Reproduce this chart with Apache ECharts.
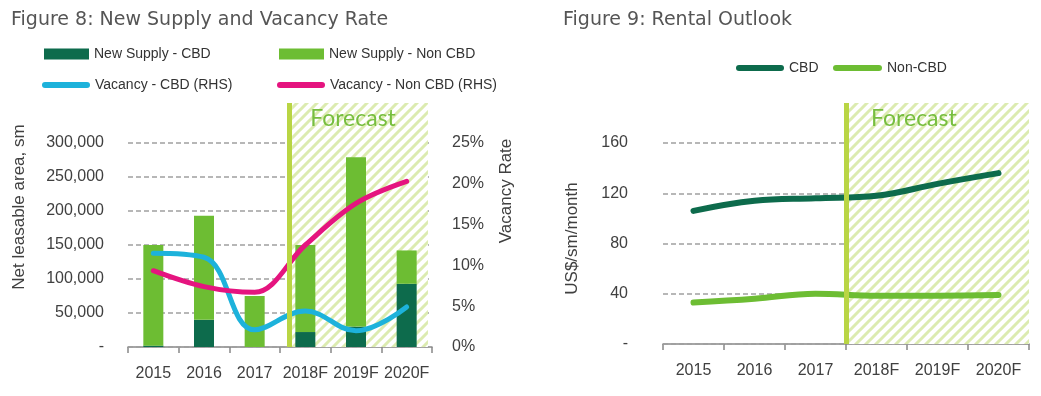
<!DOCTYPE html>
<html><head><meta charset="utf-8">
<script src="https://cdn.jsdelivr.net/npm/echarts@6/dist/echarts.min.js"></script>
<style>html,body{margin:0;padding:0;background:#fff}#c{width:1041px;height:396px}</style>
</head><body><div id="c"></div>
<script>
const years = ['2015','2016','2017','2018F','2019F','2020F'];
const supplyCBD = [2000, 40000, 0, 22000, 30000, 93000];
const supplyNonCBD = [148000, 153000, 75000, 128000, 249000, 49000];
const vacancyCBD = [11.5, 11.0, 2.1, 4.4, 2.0, 4.9];
const vacancyNonCBD = [9.35, 7.4, 6.7, 12.5, 17.6, 20.3];
const rentCBD = [106, 114, 116, 118, 127.5, 136];
const rentNonCBD = [33, 36, 40, 38.5, 38.5, 39];

const NARROW = "'Liberation Sans','Roboto',sans-serif";
const TITLEF = "'DejaVu Sans','Liberation Sans',sans-serif";
const C_DARK = '#0d6b4c', C_LIGHT = '#6dbd33', C_BLUE = '#1db2db', C_PINK = '#e5147f';
const C_FLINE = '#b9d544', C_FTEXT = '#77be3f', C_GRID = '#a0a0a0', C_TXT = '#404040';
const CAPSULE = 'path://M3,0 L45,0 A3,3 0 0 1 45,6 L3,6 A3,3 0 0 1 3,0 Z';

function hatch(){
  const c = document.createElement('canvas'); c.width = 10; c.height = 10;
  const g = c.getContext('2d'); g.fillStyle = '#fff'; g.fillRect(0,0,10,10);
  g.strokeStyle = '#dcebb0'; g.lineWidth = 3; g.lineCap='square';
  g.beginPath(); g.moveTo(-2,12); g.lineTo(12,-2); g.moveTo(-2,2); g.lineTo(2,-2); g.moveTo(8,12); g.lineTo(12,8); g.stroke();
  return c;
}
const pat = {image: hatch(), repeat: 'repeat'};

const chart = echarts.init(document.getElementById('c'), null, {renderer:'canvas'});
const lab = {fontFamily: NARROW, fontSize: 16, color: C_TXT};
const split = {show: true, lineStyle: {color: C_GRID, type: [5,3], width: 1.5}};
function xcat(grid){ return {type:'category', gridIndex: grid, data: years, axisLine:{lineStyle:{color:'#888', width:1.5}}, axisTick:{show:true, length:6, lineStyle:{color:'#888', width:1.5}}, axisLabel: Object.assign({margin: 19, interval:0}, lab)}; }
function legendItem(name, left, top, icon, w, h){
  return {data:[name], left:left, top:top, padding:0, icon:icon, itemWidth:w, itemHeight:h, itemGap:0, selectedMode:false, textStyle:{fontFamily:NARROW, fontSize:14, color:'#333'}};
}
function forecast(grid, x0, x1, xl, pad){
  return [{type:'line', xAxisIndex:grid, yAxisIndex:grid, data:[], z:0, silent:true,
    markArea:{silent:true, itemStyle:{color:pat}, label:{show:true, position:[pad,4], formatter:'Forecast', fontFamily:"'Lato','Liberation Sans',sans-serif", fontSize:23, color:C_FTEXT}, data:[[{xAxis:x0},{xAxis:x1}]]}},
   {type:'line', xAxisIndex:grid, yAxisIndex:grid, data:[], z:3, silent:true,
    markLine:{silent:true, symbol:'none', label:{show:false}, lineStyle:{color:C_FLINE, width:5, type:'solid'}, data:[{xAxis:xl}]}}];
}

const option = {
  animation:false,
  title:[
    {text:'Figure 8: New Supply and Vacancy Rate', left:6, top:6, textStyle:{fontFamily:TITLEF, fontSize:19, fontWeight:'normal', color:'#555'}},
    {text:'Figure 9: Rental Outlook', left:558, top:6, textStyle:{fontFamily:TITLEF, fontSize:19, fontWeight:'normal', color:'#555'}}
  ],
  legend:[
    legendItem('New Supply - CBD', 44, 47, 'rect', 45, 11),
    legendItem('New Supply - Non CBD', 279, 47, 'rect', 45, 11),
    legendItem('Vacancy - CBD (RHS)', 42, 78, CAPSULE, 48, 6),
    legendItem('Vacancy - Non CBD (RHS)', 277, 78, CAPSULE, 48, 6),
    legendItem('CBD', 736, 61, CAPSULE, 48, 7),
    legendItem('Non-CBD', 833, 61, CAPSULE, 49, 7)
  ],
  grid:[
    {left:128, top:143, width:304, height:204},
    {left:128, top:103, width:304, height:244},
    {left:663, top:143, width:366, height:201},
    {left:663, top:103, width:366, height:241}
  ],
  xAxis:[
    xcat(0),
    {type:'value', gridIndex:1, min:0, max:6, show:false},
    xcat(2),
    {type:'value', gridIndex:3, min:0, max:6, show:false}
  ],
  yAxis:[
    {type:'value', gridIndex:0, min:0, max:300000, interval:50000, z:1, splitLine:split, axisLine:{show:false}, axisTick:{show:false},
     axisLabel:Object.assign({margin:24, formatter:v=> v===0?'-':v.toLocaleString('en-US')}, lab),
     name:'Net leasable area, sm', nameLocation:'middle', nameRotate:90, nameGap:100, nameTextStyle:{fontFamily:NARROW, fontSize:17, color:C_TXT, padding:[0,0,0,76]}},
    {type:'value', gridIndex:1, min:0, max:1, show:false},
    {type:'value', gridIndex:2, min:0, max:160, interval:40, z:1, splitLine:split, axisLine:{show:false}, axisTick:{show:false},
     axisLabel:Object.assign({margin:35, formatter:v=> v===0?'-':String(v)}, lab),
     name:'US$/sm/month', nameLocation:'middle', nameRotate:90, nameGap:82, nameTextStyle:{fontFamily:NARROW, fontSize:17, color:C_TXT, padding:[0,0,0,10]}},
    {type:'value', gridIndex:3, min:0, max:1, show:false},
    {type:'value', gridIndex:0, position:'right', min:0, max:25, interval:5, splitLine:{show:false}, axisLine:{show:false}, axisTick:{show:false},
     axisLabel:Object.assign({margin:20, formatter:v=> v+'%'}, lab),
     name:'Vacancy Rate', nameLocation:'middle', nameRotate:90, nameGap:66, nameTextStyle:{fontFamily:NARROW, fontSize:17, color:C_TXT, padding:[0,0,0,108]}}
  ],
  series:[
    ...forecast(1, 3.24, 5.92, 3.18, 18),
    ...forecast(3, 3.05, 6, 3.0, 22),
    {name:'New Supply - CBD', type:'bar', stack:'s', xAxisIndex:0, yAxisIndex:0, barWidth:20, itemStyle:{color:C_DARK}, data:supplyCBD},
    {name:'New Supply - Non CBD', type:'bar', stack:'s', xAxisIndex:0, yAxisIndex:0, barWidth:20, itemStyle:{color:C_LIGHT}, data:supplyNonCBD},
    {name:'Vacancy - CBD (RHS)', type:'line', xAxisIndex:0, yAxisIndex:4, smooth:0.4, showSymbol:false, z:4, lineStyle:{color:C_BLUE, width:5, cap:'round'}, itemStyle:{color:C_BLUE}, data:vacancyCBD},
    {name:'Vacancy - Non CBD (RHS)', type:'line', xAxisIndex:0, yAxisIndex:4, smooth:0.35, showSymbol:false, z:4, lineStyle:{color:C_PINK, width:5, cap:'round'}, itemStyle:{color:C_PINK}, data:vacancyNonCBD},
    {name:'CBD', type:'line', xAxisIndex:2, yAxisIndex:2, smooth:0.4, showSymbol:false, z:4, lineStyle:{color:C_DARK, width:6, cap:'round'}, itemStyle:{color:C_DARK}, data:rentCBD},
    {name:'Non-CBD', type:'line', xAxisIndex:2, yAxisIndex:2, smooth:0.4, showSymbol:false, z:4, lineStyle:{color:C_LIGHT, width:6, cap:'round'}, itemStyle:{color:C_LIGHT}, data:rentNonCBD}
  ]
};
chart.setOption(option);
</script></body></html>
